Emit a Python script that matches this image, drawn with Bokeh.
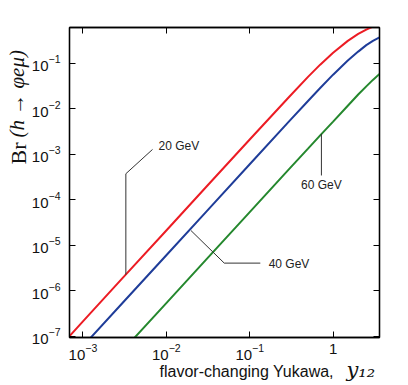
import math
from bokeh.plotting import figure
from bokeh.models import (Range1d, LogAxis, FixedTicker, LogTickFormatter, Label)
from bokeh.embed import file_html
from bokeh.resources import INLINE

# ---- data ----
yukawa = [0.0005, 0.001, 0.003, 0.01, 0.03, 0.1, 0.3, 0.5, 0.7, 1.0, 1.5, 2.0, 2.5, 3.0, 3.6]
br_20 = [5.2e-8, 2.1e-7, 1.9e-6, 2.1e-5, 1.9e-4, 2.1e-3, 1.85e-2, 5.0e-2, 0.093, 0.17, 0.31, 0.44, 0.55, 0.64, 0.72]
br_40 = [1.5e-8, 6.0e-8, 5.4e-7, 6.0e-6, 5.4e-5, 6.0e-4, 5.4e-3, 1.48e-2, 2.85e-2, 0.056, 0.115, 0.18, 0.25, 0.31, 0.37]
br_60 = [1.3e-9, 5.3e-9, 4.8e-8, 5.3e-7, 4.8e-6, 5.3e-5, 4.8e-4, 1.32e-3, 2.59e-3, 5.2e-3, 1.16e-2, 2.05e-2, 3.1e-2, 4.3e-2, 5.8e-2]

x_ticks = [1e-3, 1e-2, 1e-1, 1]
y_ticks = [1e-7, 1e-6, 1e-5, 1e-4, 1e-3, 1e-2, 1e-1]

series_names = ["20 GeV", "40 GeV", "60 GeV"]
colors = ["#ec1c24", "#1f3d99", "#25882e"]

p = figure(width=408, height=385, x_axis_type="log", y_axis_type="log",
           x_range=Range1d(6.9e-4, 3.6), y_range=Range1d(9.3e-8, 0.61),
           output_backend="svg", toolbar_location=None,
           min_border_left=69, min_border_right=29, min_border_top=27, min_border_bottom=48)
p.grid.visible = False
p.outline_line_color = "black"
p.outline_line_width = 1.3
p.background_fill_color = "white"
p.border_fill_color = "white"

TICK_FONT = "Liberation Sans"
SERIF = "Liberation Serif"

def style_axis(ax, ticks, show_labels):
    ax.ticker = FixedTicker(ticks=ticks)
    ax.axis_line_color = "black"
    ax.axis_line_width = 1.3
    ax.major_tick_in = 6
    ax.major_tick_out = 0
    ax.major_tick_line_color = "black"
    ax.major_tick_line_width = 1
    ax.minor_tick_line_color = None
    ax.major_label_text_font = TICK_FONT
    ax.major_label_text_font_size = "15px"
    ax.major_label_text_color = "#111111"
    if not show_labels:
        ax.major_label_text_font_size = "0px"
        ax.major_label_text_alpha = 0
        ax.major_label_standoff = 0

style_axis(p.xaxis[0], x_ticks, True)
style_axis(p.yaxis[0], y_ticks, True)
p.xaxis[0].formatter = LogTickFormatter()
p.yaxis[0].formatter = LogTickFormatter()
p.xaxis[0].major_label_overrides = {1: "1"}
p.xaxis[0].major_label_standoff = 6
p.yaxis[0].major_label_standoff = 9

top = LogAxis()
right = LogAxis()
style_axis(top, x_ticks, False)
style_axis(right, y_ticks, False)
p.add_layout(top, "above")
p.add_layout(right, "right")

for vals, c in zip([br_20, br_40, br_60], colors):
    p.line(yukawa, vals, line_color=c, line_width=2)

# ---- annotations (leader lines + labels) ----
lead_col = "#333333"
p.line([0.00327, 0.00327, 0.00683], [2.24e-6, 3.71e-4, 1.27e-3], line_color=lead_col, line_width=1)
p.line([0.0197, 0.0495, 0.134], [2.1e-5, 4.02e-6, 4.02e-6], line_color=lead_col, line_width=1)
p.line([0.724, 0.724], [2.8e-3, 3.4e-4], line_color=lead_col, line_width=1)

lab_kw = dict(text_font=TICK_FONT, text_font_size="12px", text_color="#222222")
p.add_layout(Label(x=0.00806, y=1.48e-3, text=series_names[0], text_align="left",
                   text_baseline="middle", **lab_kw))
p.add_layout(Label(x=0.1686, y=3.77e-6, text=series_names[1], text_align="left",
                   text_baseline="middle", **lab_kw))
p.add_layout(Label(x=0.724, y=2.12e-4, text=series_names[2], text_align="center",
                   text_baseline="middle", **lab_kw))

# ---- axis titles: one Label per side panel (side panels are not clipped) ----
p.add_layout(Label(x=15, y=173, x_units="screen", y_units="screen", angle=math.pi / 2,
                   text="Br", text_font=SERIF, text_font_size="22px",
                   text_align="left", text_baseline="middle", text_color="#111111"), "left")
p.add_layout(Label(x=-363, y=200, x_units="screen", y_units="screen", angle=math.pi / 2,
                   text="(h \u2192 \u03c6e\u03bc)", text_font=SERIF, text_font_size="21px",
                   text_font_style="italic",
                   text_align="left", text_baseline="middle", text_color="#111111"), "right")
p.add_layout(Label(x=90, y=8, x_units="screen", y_units="screen",
                   text="flavor-changing Yukawa,", text_font=TICK_FONT, text_font_size="16px",
                   text_align="left", text_baseline="alphabetic", text_color="#111111"), "below")
p.add_layout(Label(x=277, y=-342, x_units="screen", y_units="screen",
                   text="y\u2081\u2082", text_font="DejaVu Serif", text_font_size="21px",
                   text_font_style="italic",
                   text_align="left", text_baseline="alphabetic", text_color="#111111"), "above")

open("out.html", "w").write(file_html(p, INLINE))
